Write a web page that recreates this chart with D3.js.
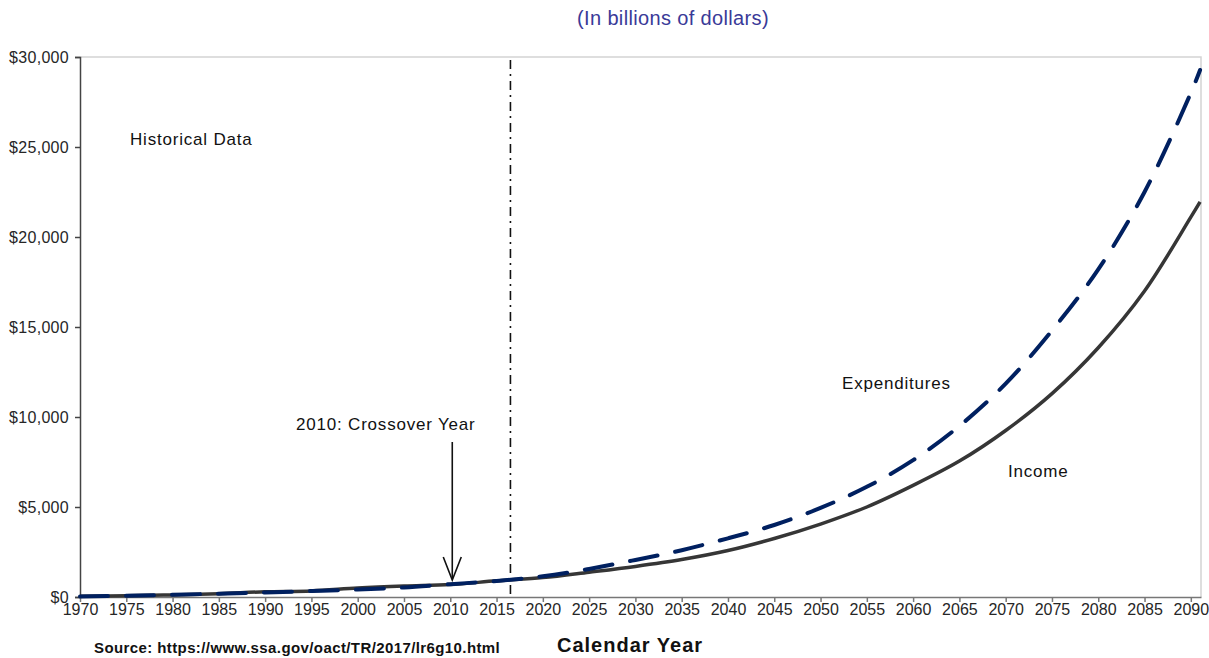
<!DOCTYPE html>
<html>
  <head>
    <meta charset="utf-8" />
    <script src="https://cdn.jsdelivr.net/npm/d3@7/dist/d3.min.js"></script>
    <style>
      * {
        margin: 0;
        padding: 0;
      }
      body {
        background-color: white;
        font-family: Arial, "Liberation Sans", sans-serif;
      }
      .tick text {
        font-family: Arial, "Liberation Sans", sans-serif;
        font-size: 16px;
        fill: #262626;
      }
    </style>
  </head>
  <body>
    <div id="container"></div>
    <script>
      // years on the x axis (5-year steps plus last projected year)
      const years = [
        1970, 1975, 1980, 1985, 1990, 1995, 2000, 2005, 2010, 2015, 2020, 2025,
        2030, 2035, 2040, 2045, 2050, 2055, 2060, 2065, 2070, 2075, 2080, 2085,
        2090, 2091,
      ];
      // billions of dollars
      const income = [
        36, 66, 117, 185, 290, 340, 500, 610, 690, 900, 1080, 1380, 1700, 2080,
        2580, 3250, 4050, 5000, 6200, 7550, 9250, 11300, 13850, 17000, 21100,
        21950,
      ];
      const expenditures = [
        33, 66, 123, 186, 253, 333, 415, 530, 713, 890, 1150, 1560, 2060, 2600,
        3260, 4000, 4950, 6120, 7600, 9500, 11850, 14800, 18200, 22500, 28000,
        29280,
      ];
      const xTicks = d3.range(1970, 2091, 5);
      const yTicks = [0, 5000, 10000, 15000, 20000, 25000, 30000];
      const crossoverYear = 2010;
      const projectionStart = 2016.5;

      const w = 1209;
      const h = 658;
      const pLeft = 80;
      const pRight = 1201;
      const pTop = 57;
      const pBottom = 597;

      const svg = d3
        .select("#container")
        .append("svg")
        .attr("width", w)
        .attr("height", h);

      const xScale = d3
        .scaleLinear()
        .domain([1970, 2091.1])
        .range([pLeft, pRight]);
      const yScale = d3
        .scaleLinear()
        .domain([0, 30000])
        .range([pBottom, pTop]);

      // title
      svg
        .append("text")
        .attr("x", 673)
        .attr("y", 25)
        .attr("text-anchor", "middle")
        .attr("font-size", 20)
        .attr("letter-spacing", 0.35)
        .attr("fill", "#3a3a98")
        .text("(In billions of dollars)");

      // frame: light top and right border
      svg
        .append("path")
        .attr("d", `M${pLeft},${pTop}H${pRight}V${pBottom}`)
        .attr("fill", "none")
        .attr("stroke", "#d4d4d4")
        .attr("stroke-width", 1.5);

      const yAxis = d3
        .axisLeft(yScale)
        .tickValues(yTicks)
        .tickSize(5)
        .tickPadding(6)
        .tickFormat(d3.format("$,"));
      const gy = svg
        .append("g")
        .attr("transform", "translate(" + pLeft + ",0)")
        .call(yAxis);
      gy.selectAll("path, line").attr("stroke", "#444").attr("stroke-width", 1.5);
      gy.selectAll("text").attr("letter-spacing", 0.3);

      const xAxis = d3
        .axisBottom(xScale)
        .tickValues(xTicks)
        .tickSize(5)
        .tickSizeOuter(0)
        .tickPadding(2)
        .tickFormat(d3.format("d"));
      const gx = svg
        .append("g")
        .attr("transform", "translate(0," + pBottom + ")")
        .call(xAxis);
      gx.selectAll("path, line").attr("stroke", "#777").attr("stroke-width", 1.5);

      // projection start marker
      svg
        .append("line")
        .attr("x1", xScale(projectionStart))
        .attr("x2", xScale(projectionStart))
        .attr("y1", pTop + 3)
        .attr("y2", pBottom)
        .attr("stroke", "#111")
        .attr("stroke-width", 1.6)
        .attr("stroke-dasharray", "9,5,2,5");

      const line = (vals) =>
        d3
          .line()
          .x((d, i) => xScale(years[i]))
          .y((d) => yScale(d))
          .curve(d3.curveCatmullRom.alpha(0.5))(vals);

      svg
        .append("path")
        .attr("d", line(income))
        .attr("fill", "none")
        .attr("stroke", "#363636")
        .attr("stroke-width", 3.5);

      svg
        .append("path")
        .attr("d", line(expenditures))
        .attr("fill", "none")
        .attr("stroke", "#002060")
        .attr("stroke-width", 4)
        .attr("stroke-linecap", "round")
        .attr("stroke-dasharray", "28,18");

      // labels
      const label = (x, y, t) =>
        svg
          .append("text")
          .attr("x", x)
          .attr("y", y)
          .attr("font-size", 17)
          .attr("letter-spacing", 0.8)
          .attr("fill", "#111")
          .text(t);
      label(130, 145, "Historical Data");
      label(842, 389, "Expenditures");
      label(1008, 477, "Income");
      label(296, 430, "2010: Crossover Year");

      // crossover arrow
      const ax = xScale(crossoverYear) + 2;
      svg
        .append("line")
        .attr("x1", ax)
        .attr("x2", ax)
        .attr("y1", 442)
        .attr("y2", 579)
        .attr("stroke", "#111")
        .attr("stroke-width", 1.6);
      svg
        .append("path")
        .attr("d", `M${ax - 9},${557}L${ax},${580}L${ax + 9},${557}`)
        .attr("fill", "none")
        .attr("stroke", "#111")
        .attr("stroke-width", 1.6);

      svg
        .append("text")
        .attr("x", 94)
        .attr("y", 653)
        .attr("font-size", 15)
        .attr("font-weight", "bold")
        .attr("letter-spacing", 0.4)
        .attr("fill", "#111")
        .text("Source: https://www.ssa.gov/oact/TR/2017/lr6g10.html");

      svg
        .append("text")
        .attr("x", 557)
        .attr("y", 652)
        .attr("font-size", 20)
        .attr("font-weight", "bold")
        .attr("letter-spacing", 1)
        .attr("fill", "#111")
        .text("Calendar Year");
    </script>
  </body>
</html>
